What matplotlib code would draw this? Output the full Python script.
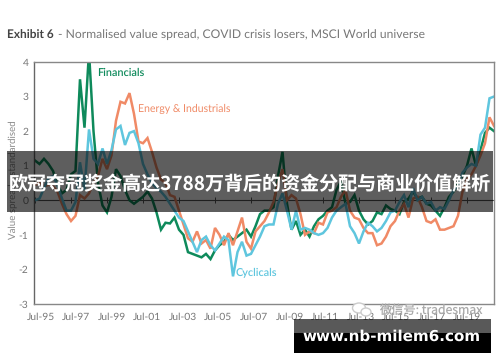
import numpy as np
import matplotlib
matplotlib.use('Agg')
import matplotlib.pyplot as plt
from matplotlib.patches import Rectangle, Ellipse

plt.rcParams['font.family'] = ['Lato', 'Noto Sans CJK SC', 'DejaVu Sans']
plt.rcParams['text.hinting'] = 'no_hinting'

# quarterly, from Jul-95
financials = [1.15, 1.05, 1.2, 1.05, 0.85, 0.45, 0.2, 0.3, 0.75, 0.85, 3.5, 2.1, 4.3, 2.0, 0.5,
              -0.15, -0.35, 0.1, 0.9, 0.7, 0.3, 0.0, -0.1, 0.0, 0.1, 0.25, 0.05, -0.35, -0.85, -0.65,
              -0.67, -0.5, -0.85, -1.0, -1.5, -1.55, -1.6, -1.65, -1.55, -1.7, -1.45, -1.3, -1.2, -1.0, -1.15,
              -1.05, -0.95, -0.85, -1.05, -0.75, -0.4, -0.3, -0.3, -0.2, 0.7, 1.4, -0.1, -0.85, -0.6, -1.0,
              -0.85, -1.05, -0.75, -0.55, -0.45, -0.3, -0.2, 0.3, 0.55, -0.1, -0.05, 0.15, -0.3, -0.55, -0.7,
              -0.6, -0.35, -0.4, -0.15, -0.25, -0.3, -0.4, -0.05, 0.05, 0.25, 0.05, 0.1, -0.1, -0.15, -0.3,
              -0.45, -0.2, 0.1, 0.25, 0.5, 0.7, 1.0, 1.5, 1.0, 1.45, 1.95, 2.1, 2.0]
energy = [0.45, 0.5, 0.4, 0.45, 0.4, 0.25, -0.1, -0.4, -0.6, -0.45, 0.15, 0.05, 0.2, 0.5, 0.7,
          1.2, 0.9, 1.3, 2.3, 2.85, 2.8, 3.1, 2.5, 1.7, 1.65, 1.8, 1.4, 0.95, 0.6, 0.5,
          0.15, 0.1, -0.3, -0.7, -1.1, -1.2, -0.9, -1.25, -1.15, -1.4, -0.8, -1.0, -1.3, -0.95, -1.3,
          -0.9, -0.5, -1.2, -1.4, -0.9, -0.75, -0.6, -0.35, -0.05, 0.5, 0.9, 0.0, 0.15, 0.05, -0.4,
          -1.0, -0.9, -0.95, -0.65, -0.7, -0.35, -0.3, -0.2, 0.1, 0.3, -0.3, -0.5, -0.55, -0.8, -0.95,
          -0.95, -1.3, -1.25, -1.05, -0.75, -0.6, -0.3, -0.1, -0.5, 0.05, 0.1, -0.2, -0.6, -0.65, -0.55,
          -0.85, -0.85, -0.8, -0.75, -0.45, 0.25, 0.6, 0.75, 1.0, 1.3, 1.65, 2.4, 2.15]
cyclicals = [0.0, 0.05, 0.35, 0.65, 0.7, 0.45, 0.05, -0.3, -0.3, -0.05, 1.1, 0.3, 2.05, 1.2, 1.05,
             1.5, 1.05, 1.45, 2.05, 2.15, 1.6, 1.95, 2.0, 1.65, 1.05, 0.75, 0.5, 0.35, 0.25, 0.1,
             -0.1, -0.3, -0.5, -0.6, -0.9, -1.2, -1.5, -1.15, -1.05, -1.3, -1.45, -1.25, -1.05, -1.15, -2.2,
             -1.5, -1.2, -1.6, -1.55, -1.3, -1.05, -0.75, -0.7, -0.7, -0.1, 0.2, -0.3, -0.85, -0.3, -0.85,
             -0.8, -0.85, -0.95, -1.0, -0.95, -0.8, -0.5, -0.3, -0.2, -0.1, -0.75, -0.95, -1.25, -0.9, -0.65,
             -0.75, -0.9, -0.8, -0.6, -0.35, -0.3, -0.05, 0.15, -0.2, 0.35, 0.0, 0.1, -0.1, -0.05, -0.3,
             -0.2, -0.25, 0.0, 0.3, 0.4, 0.8, 0.95, 1.05, 1.0, 1.9, 2.1, 2.95, 3.0]
xlabels = ['Jul-95', 'Jul-97', 'Jul-99', 'Jul-01', 'Jul-03', 'Jul-05', 'Jul-07',
           'Jul-09', 'Jul-11', 'Jul-13', 'Jul-15', 'Jul-17', 'Jul-19']
ylabels = ['-3', '-2', '-1', '0', '1', '2', '3', '4']
yticks = [-3, -2, -1, 0, 1, 2, 3, 4]

W, H = 500.0, 362.0
green = '#0E8A5B'; orange = '#F08A66'; blue = '#5FC6DE'; grey = '#6E6E6E'


def fx(px):
    return px / W


def fy(py):
    return 1 - py / H


fig = plt.figure(figsize=(5, 3.62), dpi=100)
ax = fig.add_axes([fx(34), fy(304), (494 - 34) / W, (304 - 62) / H])

t = 1995.5 + np.arange(len(financials)) * 0.25
ax.plot(t, financials, color=green, lw=1.8, solid_joinstyle='miter')
ax.plot(t, energy, color=orange, lw=1.8, solid_joinstyle='miter')
ax.plot(t, cyclicals, color=blue, lw=1.8, solid_joinstyle='miter')

ax.set_xlim(1995.5 - 1 / 18, 1995.5 + 459 / 18)
ax.set_ylim(-3, 4)
tick_years = 1995.5 + 2 * np.arange(len(xlabels))
# labels sit a little to the right of the marks on the zero line
ax.set_xticks(np.linspace(1995.83, 2019.5, len(xlabels)), xlabels)
ax.set_yticks(yticks, ylabels)
ax.tick_params(axis='both', length=0, labelsize=7.4, labelcolor='#777777')
ax.tick_params(axis='x', pad=6)
ax.tick_params(axis='y', pad=4)
for s in ax.spines.values():
    s.set_color('#888888'); s.set_linewidth(1.0)
ax.spines['left'].set_color('#666666')

sec = ax.secondary_xaxis(3 / 7)
sec.set_xticks(tick_years, [])
sec.tick_params(direction='inout', length=5, width=0.7, color='#555555')
sec.spines['bottom'].set_color('#555555')
sec.spines['bottom'].set_linewidth(0.8)

ax.text(1995.5 + 62 / 18, 3.68, 'Financials', color=green, fontsize=7.8, fontweight='semibold', va='center')
ax.text(1995.5 + 103 / 18, 2.63, 'Energy & Industrials', color=orange, fontsize=7.6, va='center')
ax.text(1995.5 + 201 / 18, -2.1, 'Cyclicals', color=blue, fontsize=7.8, fontweight='semibold', va='center')

fig.text(fx(13), fy(180), 'Value spread - standardised', rotation=90, color='#8a8a8a',
         fontsize=7, ha='center', va='center')

fig.text(fx(7), fy(35), 'Exhibit 6', color='#444444', fontsize=8.6, fontweight='bold', va='center')
fig.text(fx(58), fy(35), '- Normalised value spread, COVID crisis losers, MSCI World universe',
         color='#777777', fontsize=8.7, va='center')

# banner over the chart
fig.add_artist(Rectangle((fx(7), fy(212)), 486 / W, 61 / H, transform=fig.transFigure,
                         facecolor='black', alpha=0.63, edgecolor='none', zorder=10))
fig.text(fx(250), fy(185), '欧冠夺冠奖金高达3788万背后的资金分配与商业价值解析', color='white',
         fontsize=13.7, fontweight='bold', ha='center', va='center', zorder=11,
         family=['Noto Sans CJK SC', 'DejaVu Sans'])

# watermark
for (cx, cy, w, h) in [(359, 308, 13, 10), (366, 312, 10, 8)]:
    fig.add_artist(Ellipse((fx(cx), fy(cy)), w / W, h / H, transform=fig.transFigure,
                           facecolor='white', edgecolor='#cccccc', lw=1, zorder=8))
fig.text(fx(379), fy(310), '微信号: tradesmax', color='#aaaaaa', fontsize=8.8, va='center', zorder=9,
         family=['Noto Sans CJK SC', 'DejaVu Sans'])

# url box
fig.add_artist(Rectangle((fx(294), fy(333)), 197 / W, 14 / H, transform=fig.transFigure,
                         facecolor='black', alpha=0.65, edgecolor='none', zorder=10))
fig.add_artist(Rectangle((fx(294), fy(353)), 197 / W, 20 / H, transform=fig.transFigure,
                         facecolor='black', edgecolor='none', zorder=10))
fig.text(fx(392), fy(337), 'www.nb-milem6.com', color='white', fontsize=10.9, fontweight='bold',
         ha='center', va='center', zorder=11, family='DejaVu Sans')

fig.savefig('out.png', dpi=100)
